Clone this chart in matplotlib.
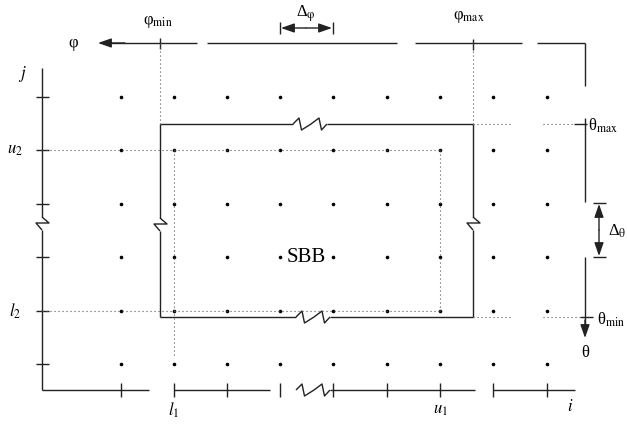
import numpy as np
import matplotlib.pyplot as plt

plt.rcParams['font.family'] = ['Liberation Serif', 'DejaVu Serif']
plt.rcParams['mathtext.fontset'] = 'stix'

# cell centres of the sampling grid (pixel positions)
col_x = [121, 174, 227, 280, 333, 387, 440, 493, 547]
row_y = [97, 150, 204, 257, 311, 364]

# box limits in the angle frame and in the index frame
phi_min, phi_max = 160, 473
theta_max, theta_min = 124, 317
l1, u1 = 174, 440
u2, l2 = 150, 311

# axis labels
j_labels = [(u2, '$u_2$'), (l2, '$l_2$')]
i_labels = [(l1, '$l_1$'), (u1, '$u_1$')]

INK = '#222222'
DOT = '#555555'
LW = 1.0

fig = plt.figure(figsize=(6.27, 4.24), dpi=100)
ax = fig.add_axes([0, 0, 1, 1])
ax.set_xlim(0, 627)
ax.set_ylim(424, 0)
ax.axis('off')


def line(xs, ys, **kw):
    kw.setdefault('color', INK)
    kw.setdefault('lw', LW)
    ax.plot(xs, ys, solid_capstyle='butt', **kw)


def dotted(xs, ys):
    ax.plot(xs, ys, color=DOT, lw=0.8, linestyle=(0, (1, 2.6)))


def hbreak(x0, y):
    # double zig-zag break on a horizontal line
    t = np.array([0, 6, 8.5, 18, 26, 28.5, 34])
    d = np.array([0, -6, 6, 0, -6, 6, 0])
    line(x0 + t, y + d)
    return x0 + t[-1]


def vbreak(x, y0):
    # single zig-zag break on a vertical line
    line([x, x + 7, x - 6, x], [y0, y0 + 6, y0 + 6, y0 + 13])
    return y0 + 13


def arrow(tip, tail):
    ax.annotate('', xy=tip, xytext=tail,
                arrowprops=dict(arrowstyle='-|>,head_length=0.8,head_width=0.28',
                                color=INK, lw=LW, shrinkA=0, shrinkB=0,
                                mutation_scale=10))


# grid points
gx, gy = np.meshgrid(col_x, row_y)
ax.plot(gx.ravel(), gy.ravel(), 'o', color='black', ms=2.6, mew=0)

# ---- index frame (j vertical, i horizontal) ----
jx, iy = 42, 390
line([jx, jx], [68, 217])
yb = vbreak(jx, 217)
line([jx, jx], [yb, iy])
for y in row_y:
    line([36, 49], [y, y])

line([jx, 149], [iy, iy])
line([174, 270], [iy, iy])
xb = hbreak(296, iy)
line([xb, 475], [iy, iy])
line([493, 575], [iy, iy])
for x in col_x:
    line([x, x], [383, 397])

# ---- angle frame (phi to the left on top, theta downwards on the right) ----
fy, tx = 43, 585
arrow((98, fy), (125, fy))
for a, b in [(110, 197), (207, 397), (415, 522), (537, tx)]:
    line([a, b], [fy, fy])
line([phi_min, phi_min], [38, 49])
line([phi_max, phi_max], [39, 50])

line([tx, tx], [fy, 86])
line([tx, tx], [118, 202])
line([tx, tx], [257, 325])
arrow((tx, 338), (tx, 320))
line([574, tx + 2], [theta_max, theta_max])
line([580, 593], [theta_min, theta_min])

# delta phi / delta theta brackets
line([280, 280], [22, 34])
line([333, 333], [22, 34])
arrow((281, 28), (306, 28))
arrow((332, 28), (306, 28))
line([593, 606], [203, 203])
line([593, 606], [257, 257])
arrow((599, 204), (599, 230))
arrow((599, 256), (599, 230))

# ---- search bounding box with break marks ----
xb = hbreak(293, theta_max)
line([phi_min, 293], [theta_max, theta_max])
line([xb, phi_max], [theta_max, theta_max])
xb = hbreak(296, theta_min)
line([phi_min, 296], [theta_min, theta_min])
line([xb, phi_max], [theta_min, theta_min])
line([phi_min, phi_min], [theta_max, 218])
yb = vbreak(phi_min, 218)
line([phi_min, phi_min], [yb, theta_min])
line([phi_max, phi_max], [theta_max, 217])
yb = vbreak(phi_max, 217)
line([phi_max, phi_max], [yb, theta_min])

# dotted guide lines
dotted([phi_min, phi_min], [fy, theta_max])
dotted([phi_max, phi_max], [fy, theta_max])
dotted([phi_max, 513], [theta_max, theta_max])
dotted([543, 574], [theta_max, theta_max])
dotted([phi_max, 513], [theta_min, theta_min])
dotted([543, 580], [theta_min, theta_min])
dotted([jx, u1], [u2, u2])
dotted([jx, u1], [l2, l2])
dotted([l1, l1], [u2, 357])
dotted([u1, u1], [u2, l2])

# ---- labels (greek upright, as in the printed figure) ----
fs = 12
ax.text(73, fy, 'φ', fontsize=fs, ha='center', va='center')
ax.text(phi_min - 2, 22, r'φ$_{\rm min}$', fontsize=fs, ha='center', va='center')
ax.text(phi_max - 4, 17, r'φ$_{\rm max}$', fontsize=fs, ha='center', va='center')
ax.text(306, 14, r'Δ$_{\mathrm{φ}}$', fontsize=fs, ha='center', va='center')
ax.text(588, theta_max + 2, r'θ$_{\rm max}$', fontsize=fs, ha='left', va='center')
ax.text(597, theta_min + 3, r'θ$_{\rm min}$', fontsize=fs, ha='left', va='center')
ax.text(tx, 353, 'θ', fontsize=fs, ha='center', va='center')
ax.text(608, 231, r'Δ$_{\mathrm{θ}}$', fontsize=fs, ha='left', va='center')

ax.text(22, 74, '$j$', fontsize=fs, ha='center', va='center')
for y, s in j_labels:
    ax.text(15, y, s, fontsize=fs, ha='center', va='center')
for x, s in i_labels:
    ax.text(x, 410, s, fontsize=fs, ha='center', va='center')
ax.text(570, 407, '$i$', fontsize=fs, ha='center', va='center')

ax.text(306, 257, 'SBB', fontsize=15, ha='center', va='center')

fig.savefig('out.png', dpi=100)
